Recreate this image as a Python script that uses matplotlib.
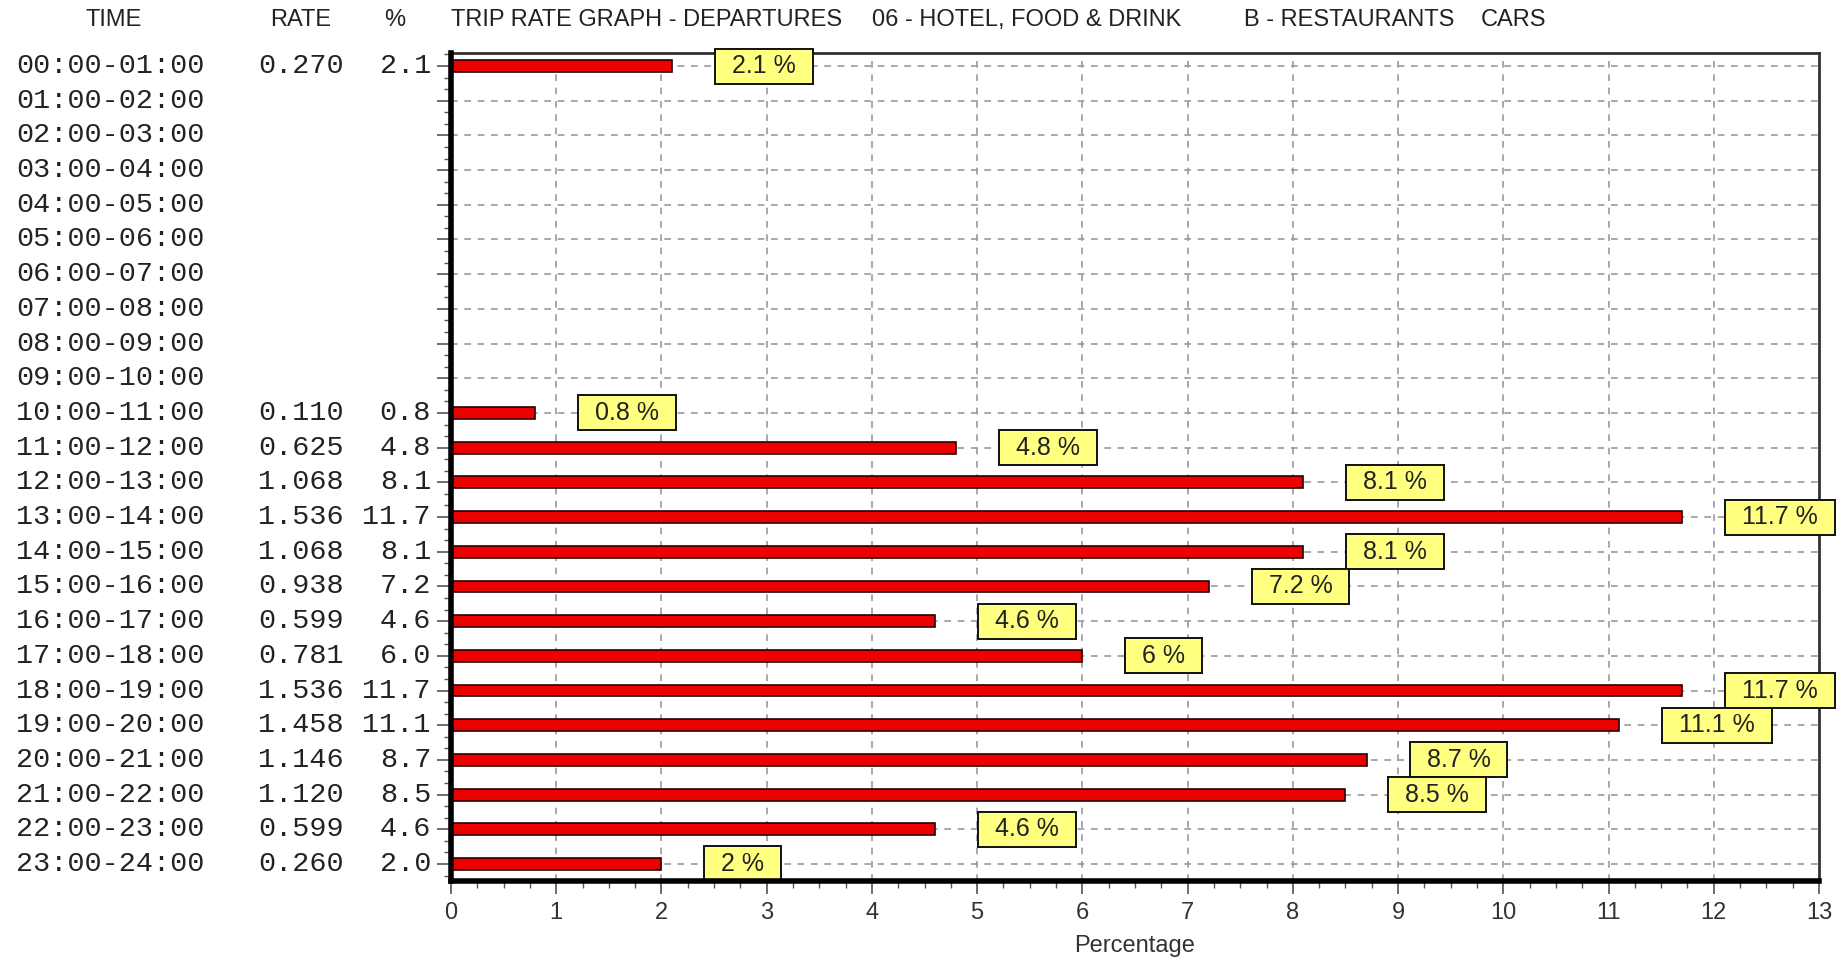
import numpy as np
import matplotlib.pyplot as plt
from matplotlib.path import Path
from matplotlib.ticker import MultipleLocator
from matplotlib.transforms import blended_transform_factory

W, H = 1845, 967

times = ["%02d:00-%02d:00" % (h, h + 1) for h in range(24)]
rates = [0.270, None, None, None, None, None, None, None, None, None,
         0.110, 0.625, 1.068, 1.536, 1.068, 0.938, 0.599, 0.781,
         1.536, 1.458, 1.146, 1.120, 0.599, 0.260]
pcts = [2.1, None, None, None, None, None, None, None, None, None,
        0.8, 4.8, 8.1, 11.7, 8.1, 7.2, 4.6, 6.0,
        11.7, 11.1, 8.7, 8.5, 4.6, 2.0]
title_parts = ["TRIP RATE GRAPH - DEPARTURES", "06 - HOTEL, FOOD & DRINK",
               "B - RESTAURANTS", "CARS"]

mono = "Liberation Mono"
sans = "Liberation Sans"


def label_box(x0, y0, width, height, mutation_size):
    # wide horizontal padding, small vertical padding like the original
    px, py = 0.68 * mutation_size, 0.22 * mutation_size
    x0, y0 = x0 - px, y0 - py
    x1, y1 = x0 + width + 2 * px, y0 + height + 2 * py
    return Path([(x0, y0), (x1, y0), (x1, y1), (x0, y1), (x0, y0)],
                [Path.MOVETO, Path.LINETO, Path.LINETO, Path.LINETO, Path.CLOSEPOLY])


fig = plt.figure(figsize=(W / 100, H / 100), dpi=100)
ax = fig.add_axes([451 / W, 1 - 881 / H, (1819 - 451) / W, (881 - 53) / H])

rows = np.arange(24)
ax.set_xlim(0, 13)
ax.set_ylim(23.49, -0.375)

# grid
for r in rows:
    ax.axhline(r, color="#999999", lw=1.2, ls=(0, (4, 4)), zorder=1)
for x in range(1, 13):
    ax.axvline(x, color="#999999", lw=1.2, ls=(0, (4, 4)), zorder=1)

vals = [(r, p) for r, p in zip(rows, pcts) if p is not None]
ax.barh([r for r, p in vals], [p for r, p in vals], height=0.34,
        color="#ee0000", edgecolor="#2a0000", lw=1.2, zorder=3)

for r, p in vals:
    ax.annotate("%g %%" % p, xy=(p, r), xytext=(60, 0), textcoords="offset pixels",
                ha="left", va="center", fontsize=18, family=sans, color="#222222",
                zorder=5,
                bbox=dict(boxstyle=label_box, fc="#ffff80", ec="#111111", lw=1.4))

# spines
for s in ["left", "bottom"]:
    ax.spines[s].set_linewidth(4)
    ax.spines[s].set_color("black")
for s in ["top", "right"]:
    ax.spines[s].set_linewidth(2)
    ax.spines[s].set_color("#333333")
ax.spines["left"].set_zorder(6)
ax.spines["bottom"].set_zorder(6)

ax.set_xticks(range(14))
ax.xaxis.set_minor_locator(MultipleLocator(0.25))
ax.set_yticks(rows)
ax.set_yticklabels([])
ax.yaxis.set_minor_locator(MultipleLocator(1 / 3))
ax.tick_params(axis="x", which="major", length=9, width=1.2, color="#555555",
               labelsize=17, labelcolor="#333333", pad=6)
ax.tick_params(axis="x", which="minor", length=5, width=1, color="#555555")
ax.tick_params(axis="y", which="major", length=10, width=1.2, color="#555555")
ax.tick_params(axis="y", which="minor", length=5, width=1, color="#555555")
for lab in ax.get_xticklabels():
    lab.set_family(sans)
ax.set_xlabel("Percentage", fontsize=17, family=sans, color="#333333", labelpad=8)

# table columns to the left of the axes
tr = blended_transform_factory(fig.transFigure, ax.transData)
for r in rows:
    ax.text(16 / W, r, times[r], transform=tr, ha="left", va="center",
            fontsize=20.5, family=mono, color="#222222")
    if rates[r] is not None:
        ax.text(344 / W, r, "%.3f" % rates[r], transform=tr, ha="right", va="center",
                fontsize=20.5, family=mono, color="#222222")
        ax.text(431 / W, r, "%.1f" % pcts[r], transform=tr, ha="right", va="center",
                fontsize=20.5, family=mono, color="#222222")

# header
hy = 1 - 20 / H
fig.text(114 / W, hy, "TIME", ha="center", va="center", fontsize=17, family=sans, color="#222222")
fig.text(301 / W, hy, "RATE", ha="center", va="center", fontsize=17, family=sans, color="#222222")
fig.text(395 / W, hy, "%", ha="center", va="center", fontsize=17, family=sans, color="#222222")
for x, t in zip([451, 872, 1244, 1481], title_parts):
    fig.text(x / W, hy, t, ha="left", va="center", fontsize=17, family=sans, color="#222222")

fig.savefig("out.png", dpi=100, facecolor="white")
